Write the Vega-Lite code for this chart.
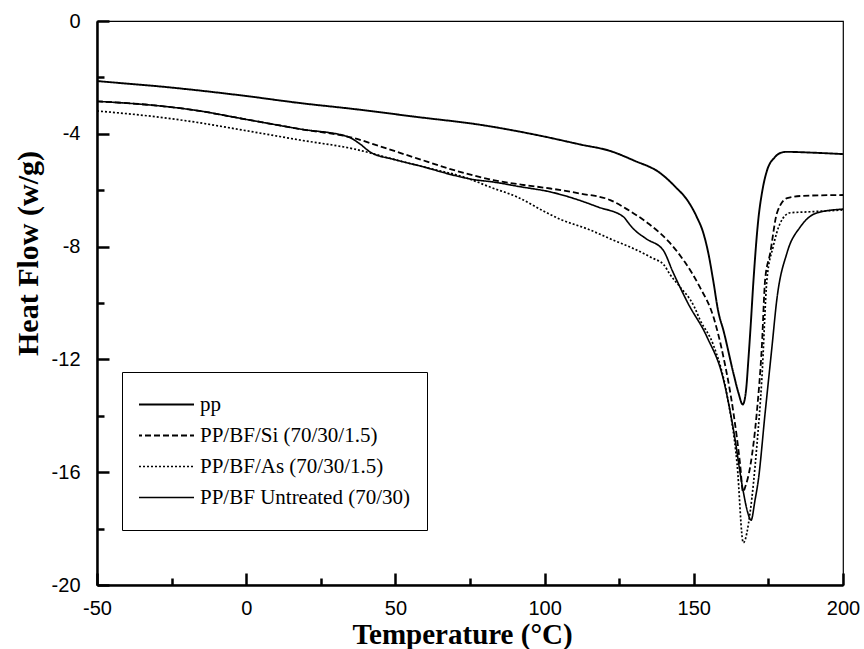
{
  "$schema": "https://vega.github.io/schema/vega-lite/v6.json",
  "width": 746,
  "height": 564,
  "autosize": "none",
  "padding": {"left": 97, "top": 21, "right": 21, "bottom": 64},
  "background": "white",
  "config": {"view": {"stroke": "black", "strokeWidth": 1.2}},
  "datasets": {
    "curves": [
      {"s": "pp", "t": -50, "v": -2.13}, {"s": "pp", "t": -40, "v": -2.22}, {"s": "pp", "t": -30, "v": -2.31}, {"s": "pp", "t": -17, "v": -2.45}, {"s": "pp", "t": 0, "v": -2.66}, {"s": "pp", "t": 18, "v": -2.91}, {"s": "pp", "t": 36, "v": -3.12}, {"s": "pp", "t": 57, "v": -3.4}, {"s": "pp", "t": 79, "v": -3.69}, {"s": "pp", "t": 100, "v": -4.1}, {"s": "pp", "t": 112, "v": -4.38}, {"s": "pp", "t": 122, "v": -4.61}, {"s": "pp", "t": 130, "v": -4.95}, {"s": "pp", "t": 138.7, "v": -5.39}, {"s": "pp", "t": 144, "v": -5.9}, {"s": "pp", "t": 147.8, "v": -6.35}, {"s": "pp", "t": 151, "v": -6.95}, {"s": "pp", "t": 153.2, "v": -7.52}, {"s": "pp", "t": 155, "v": -8.3}, {"s": "pp", "t": 156.5, "v": -9.2}, {"s": "pp", "t": 158.2, "v": -10.3}, {"s": "pp", "t": 160, "v": -11.0}, {"s": "pp", "t": 163.3, "v": -12.5}, {"s": "pp", "t": 165, "v": -13.2}, {"s": "pp", "t": 166.4, "v": -13.6}, {"s": "pp", "t": 167.5, "v": -13.1}, {"s": "pp", "t": 168.3, "v": -12.0}, {"s": "pp", "t": 169, "v": -10.9}, {"s": "pp", "t": 170, "v": -9.2}, {"s": "pp", "t": 171.6, "v": -7.06}, {"s": "pp", "t": 173, "v": -6.0}, {"s": "pp", "t": 174.6, "v": -5.28}, {"s": "pp", "t": 177, "v": -4.85}, {"s": "pp", "t": 179, "v": -4.68}, {"s": "pp", "t": 181, "v": -4.64}, {"s": "pp", "t": 190, "v": -4.67}, {"s": "pp", "t": 200, "v": -4.72},

      {"s": "PP/BF/Si (70/30/1.5)", "t": -50, "v": -2.85}, {"s": "PP/BF/Si (70/30/1.5)", "t": -30, "v": -3.0}, {"s": "PP/BF/Si (70/30/1.5)", "t": -17.4, "v": -3.16}, {"s": "PP/BF/Si (70/30/1.5)", "t": 0, "v": -3.49}, {"s": "PP/BF/Si (70/30/1.5)", "t": 18, "v": -3.83}, {"s": "PP/BF/Si (70/30/1.5)", "t": 36, "v": -4.15}, {"s": "PP/BF/Si (70/30/1.5)", "t": 45, "v": -4.45}, {"s": "PP/BF/Si (70/30/1.5)", "t": 57.2, "v": -4.87}, {"s": "PP/BF/Si (70/30/1.5)", "t": 70, "v": -5.3}, {"s": "PP/BF/Si (70/30/1.5)", "t": 82.8, "v": -5.64}, {"s": "PP/BF/Si (70/30/1.5)", "t": 92, "v": -5.8}, {"s": "PP/BF/Si (70/30/1.5)", "t": 101.9, "v": -5.94}, {"s": "PP/BF/Si (70/30/1.5)", "t": 112, "v": -6.12}, {"s": "PP/BF/Si (70/30/1.5)", "t": 122, "v": -6.35}, {"s": "PP/BF/Si (70/30/1.5)", "t": 127.7, "v": -6.68}, {"s": "PP/BF/Si (70/30/1.5)", "t": 135, "v": -7.2}, {"s": "PP/BF/Si (70/30/1.5)", "t": 142, "v": -7.87}, {"s": "PP/BF/Si (70/30/1.5)", "t": 147, "v": -8.55}, {"s": "PP/BF/Si (70/30/1.5)", "t": 152, "v": -9.43}, {"s": "PP/BF/Si (70/30/1.5)", "t": 156.6, "v": -10.5}, {"s": "PP/BF/Si (70/30/1.5)", "t": 159.9, "v": -11.9}, {"s": "PP/BF/Si (70/30/1.5)", "t": 163.3, "v": -13.9}, {"s": "PP/BF/Si (70/30/1.5)", "t": 165.5, "v": -15.7}, {"s": "PP/BF/Si (70/30/1.5)", "t": 166.5, "v": -16.7}, {"s": "PP/BF/Si (70/30/1.5)", "t": 167.3, "v": -16.5}, {"s": "PP/BF/Si (70/30/1.5)", "t": 168.9, "v": -15.8}, {"s": "PP/BF/Si (70/30/1.5)", "t": 171.1, "v": -13.9}, {"s": "PP/BF/Si (70/30/1.5)", "t": 172.8, "v": -11.55}, {"s": "PP/BF/Si (70/30/1.5)", "t": 173.9, "v": -9.18}, {"s": "PP/BF/Si (70/30/1.5)", "t": 175.6, "v": -8.23}, {"s": "PP/BF/Si (70/30/1.5)", "t": 177.9, "v": -6.8}, {"s": "PP/BF/Si (70/30/1.5)", "t": 181.3, "v": -6.28}, {"s": "PP/BF/Si (70/30/1.5)", "t": 186.7, "v": -6.2}, {"s": "PP/BF/Si (70/30/1.5)", "t": 200, "v": -6.17},

      {"s": "PP/BF/As (70/30/1.5)", "t": -50, "v": -3.19}, {"s": "PP/BF/As (70/30/1.5)", "t": -30, "v": -3.4}, {"s": "PP/BF/As (70/30/1.5)", "t": -17.4, "v": -3.58}, {"s": "PP/BF/As (70/30/1.5)", "t": 0, "v": -3.89}, {"s": "PP/BF/As (70/30/1.5)", "t": 18, "v": -4.22}, {"s": "PP/BF/As (70/30/1.5)", "t": 36.2, "v": -4.54}, {"s": "PP/BF/As (70/30/1.5)", "t": 50, "v": -4.92}, {"s": "PP/BF/As (70/30/1.5)", "t": 60, "v": -5.19}, {"s": "PP/BF/As (70/30/1.5)", "t": 74, "v": -5.57}, {"s": "PP/BF/As (70/30/1.5)", "t": 82, "v": -5.9}, {"s": "PP/BF/As (70/30/1.5)", "t": 90.8, "v": -6.24}, {"s": "PP/BF/As (70/30/1.5)", "t": 100.9, "v": -6.81}, {"s": "PP/BF/As (70/30/1.5)", "t": 105, "v": -7.02}, {"s": "PP/BF/As (70/30/1.5)", "t": 115, "v": -7.4}, {"s": "PP/BF/As (70/30/1.5)", "t": 123, "v": -7.77}, {"s": "PP/BF/As (70/30/1.5)", "t": 130, "v": -8.08}, {"s": "PP/BF/As (70/30/1.5)", "t": 136, "v": -8.4}, {"s": "PP/BF/As (70/30/1.5)", "t": 140, "v": -8.65}, {"s": "PP/BF/As (70/30/1.5)", "t": 142.1, "v": -9.0}, {"s": "PP/BF/As (70/30/1.5)", "t": 145.4, "v": -9.43}, {"s": "PP/BF/As (70/30/1.5)", "t": 150, "v": -10.1}, {"s": "PP/BF/As (70/30/1.5)", "t": 152.1, "v": -10.6}, {"s": "PP/BF/As (70/30/1.5)", "t": 156.6, "v": -11.5}, {"s": "PP/BF/As (70/30/1.5)", "t": 161.2, "v": -13.3}, {"s": "PP/BF/As (70/30/1.5)", "t": 164.5, "v": -15.7}, {"s": "PP/BF/As (70/30/1.5)", "t": 166.6, "v": -18.5}, {"s": "PP/BF/As (70/30/1.5)", "t": 168.9, "v": -17.4}, {"s": "PP/BF/As (70/30/1.5)", "t": 171.1, "v": -15.1}, {"s": "PP/BF/As (70/30/1.5)", "t": 172.8, "v": -12.7}, {"s": "PP/BF/As (70/30/1.5)", "t": 174.5, "v": -9.18}, {"s": "PP/BF/As (70/30/1.5)", "t": 176.6, "v": -8.0}, {"s": "PP/BF/As (70/30/1.5)", "t": 179, "v": -7.16}, {"s": "PP/BF/As (70/30/1.5)", "t": 182.3, "v": -6.8}, {"s": "PP/BF/As (70/30/1.5)", "t": 188, "v": -6.77}, {"s": "PP/BF/As (70/30/1.5)", "t": 200, "v": -6.7},

      {"s": "PP/BF Untreated (70/30)", "t": -50, "v": -2.85}, {"s": "PP/BF Untreated (70/30)", "t": -30, "v": -3.0}, {"s": "PP/BF Untreated (70/30)", "t": -17.4, "v": -3.16}, {"s": "PP/BF Untreated (70/30)", "t": 0, "v": -3.49}, {"s": "PP/BF Untreated (70/30)", "t": 18, "v": -3.83}, {"s": "PP/BF Untreated (70/30)", "t": 34, "v": -4.1}, {"s": "PP/BF Untreated (70/30)", "t": 38, "v": -4.35}, {"s": "PP/BF Untreated (70/30)", "t": 41.6, "v": -4.65}, {"s": "PP/BF Untreated (70/30)", "t": 50, "v": -4.92}, {"s": "PP/BF Untreated (70/30)", "t": 60, "v": -5.19}, {"s": "PP/BF Untreated (70/30)", "t": 68.4, "v": -5.44}, {"s": "PP/BF Untreated (70/30)", "t": 76, "v": -5.62}, {"s": "PP/BF Untreated (70/30)", "t": 82.8, "v": -5.71}, {"s": "PP/BF Untreated (70/30)", "t": 92, "v": -5.88}, {"s": "PP/BF Untreated (70/30)", "t": 101.9, "v": -6.06}, {"s": "PP/BF Untreated (70/30)", "t": 110, "v": -6.3}, {"s": "PP/BF Untreated (70/30)", "t": 118, "v": -6.6}, {"s": "PP/BF Untreated (70/30)", "t": 126.5, "v": -6.95}, {"s": "PP/BF Untreated (70/30)", "t": 128, "v": -7.15}, {"s": "PP/BF Untreated (70/30)", "t": 129.5, "v": -7.34}, {"s": "PP/BF Untreated (70/30)", "t": 134, "v": -7.72}, {"s": "PP/BF Untreated (70/30)", "t": 139.7, "v": -8.12}, {"s": "PP/BF Untreated (70/30)", "t": 143, "v": -8.9}, {"s": "PP/BF Untreated (70/30)", "t": 148, "v": -10.0}, {"s": "PP/BF Untreated (70/30)", "t": 154.4, "v": -11.2}, {"s": "PP/BF Untreated (70/30)", "t": 159.9, "v": -12.7}, {"s": "PP/BF Untreated (70/30)", "t": 163.3, "v": -14.5}, {"s": "PP/BF Untreated (70/30)", "t": 166.6, "v": -16.7}, {"s": "PP/BF Untreated (70/30)", "t": 168, "v": -17.4}, {"s": "PP/BF Untreated (70/30)", "t": 169.2, "v": -17.7}, {"s": "PP/BF Untreated (70/30)", "t": 170.5, "v": -17.0}, {"s": "PP/BF Untreated (70/30)", "t": 171.6, "v": -16.3}, {"s": "PP/BF Untreated (70/30)", "t": 173.9, "v": -13.9}, {"s": "PP/BF Untreated (70/30)", "t": 176.2, "v": -11.55}, {"s": "PP/BF Untreated (70/30)", "t": 177.8, "v": -9.9}, {"s": "PP/BF Untreated (70/30)", "t": 181.3, "v": -8.2}, {"s": "PP/BF Untreated (70/30)", "t": 185.7, "v": -7.3}, {"s": "PP/BF Untreated (70/30)", "t": 191.4, "v": -6.8}, {"s": "PP/BF Untreated (70/30)", "t": 200, "v": -6.67}
    ]
  },
  "data": {"name": "curves"},
  "mark": {"type": "line", "color": "black", "interpolate": "monotone", "clip": true},
  "encoding": {
    "x": {
      "field": "t", "type": "quantitative",
      "scale": {"domain": [-50, 200], "nice": false, "zero": false},
      "axis": {
        "values": [-50, -25, 0, 25, 50, 75, 100, 125, 150, 175, 200],
        "labelExpr": "datum.value % 50 === 0 ? '' + datum.value : ''",
        "tickSize": {"condition": {"test": "datum.value % 50 === 0", "value": -12}, "value": -7},
        "tickWidth": 2.5, "tickColor": "black",
        "domainWidth": 2.5, "domainColor": "black",
        "labelFont": "Liberation Sans", "labelFontSize": 20, "labelColor": "black",
        "labelPadding": 25, "labelOverlap": false, "labelFlush": false, "labelBound": false, "labelLimit": 0,
        "grid": false,
        "title": "Temperature (°C)",
        "titleFont": "Liberation Serif", "titleFontWeight": "bold", "titleFontSize": 29, "titleColor": "black",
        "titleX": 365, "titleY": 58, "titleBaseline": "alphabetic"
      }
    },
    "y": {
      "field": "v", "type": "quantitative",
      "scale": {"domain": [-20, 0], "nice": false, "zero": false},
      "axis": {
        "values": [0, -2, -4, -6, -8, -10, -12, -14, -16, -18, -20],
        "labelExpr": "datum.value % 4 === 0 ? '' + datum.value : ''",
        "tickSize": {"condition": {"test": "datum.value % 4 === 0", "value": -12}, "value": -7},
        "tickWidth": 2.5, "tickColor": "black",
        "domainWidth": 2.5, "domainColor": "black",
        "labelFont": "Liberation Sans", "labelFontSize": 20, "labelColor": "black",
        "labelPadding": 29, "labelOverlap": false, "labelFlush": false, "labelBound": false, "labelLimit": 0,
        "grid": false,
        "title": "Heat Flow (w/g)",
        "titleFont": "Liberation Serif", "titleFontWeight": "bold", "titleFontSize": 30, "titleColor": "black",
        "titlePadding": 8, "titleY": 232
      }
    },
    "strokeDash": {
      "field": "s", "type": "nominal",
      "scale": {
        "domain": ["pp", "PP/BF/Si (70/30/1.5)", "PP/BF/As (70/30/1.5)", "PP/BF Untreated (70/30)"],
        "range": [[1, 0], [6, 3], [2, 2], [1, 0]]
      },
      "legend": {
        "orient": "none", "legendX": 25, "legendY": 351,
        "title": null,
        "symbolType": "stroke", "symbolSize": 4489, "symbolStrokeColor": "black", "symbolStrokeWidth": 1.3,
        "symbolOffset": -13,
        "labelFont": "Liberation Serif", "labelFontSize": 21, "labelColor": "black", "labelOffset": 5, "labelLimit": 0,
        "clipHeight": 31, "rowPadding": 0, "padding": 17,
        "strokeColor": "black", "fillColor": "white"
      }
    },
    "strokeWidth": {
      "field": "s", "type": "nominal",
      "scale": {
        "domain": ["pp", "PP/BF/Si (70/30/1.5)", "PP/BF/As (70/30/1.5)", "PP/BF Untreated (70/30)"],
        "range": [1.9, 1.6, 1.6, 1.3]
      },
      "legend": null
    }
  }
}
